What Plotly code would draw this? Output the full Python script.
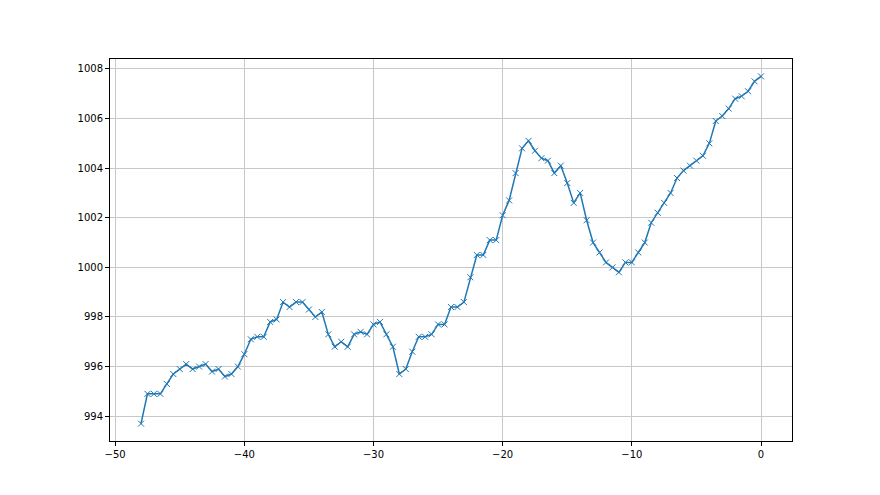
import plotly.graph_objects as go

hours = [-48.0, -47.5, -47.0, -46.5, -46.0, -45.5, -45.0, -44.5, -44.0, -43.5,
         -43.0, -42.5, -42.0, -41.5, -41.0, -40.5, -40.0, -39.5, -39.0, -38.5,
         -38.0, -37.5, -37.0, -36.5, -36.0, -35.5, -35.0, -34.5, -34.0, -33.5,
         -33.0, -32.5, -32.0, -31.5, -31.0, -30.5, -30.0, -29.5, -29.0, -28.5,
         -28.0, -27.5, -27.0, -26.5, -26.0, -25.5, -25.0, -24.5, -24.0, -23.5,
         -23.0, -22.5, -22.0, -21.5, -21.0, -20.5, -20.0, -19.5, -19.0, -18.5,
         -18.0, -17.5, -17.0, -16.5, -16.0, -15.5, -15.0, -14.5, -14.0, -13.5,
         -13.0, -12.5, -12.0, -11.5, -11.0, -10.5, -10.0, -9.5, -9.0, -8.5,
         -8.0, -7.5, -7.0, -6.5, -6.0, -5.5, -5.0, -4.5, -4.0, -3.5,
         -3.0, -2.5, -2.0, -1.5, -1.0, -0.5, 0.0]

pressure = [993.7, 994.9, 994.9, 994.9, 995.3, 995.7, 995.9, 996.1, 995.9, 996.0,
            996.1, 995.8, 995.9, 995.6, 995.7, 996.0, 996.5, 997.1, 997.2, 997.2,
            997.8, 997.9, 998.6, 998.4, 998.6, 998.6, 998.3, 998.0, 998.2, 997.3,
            996.8, 997.0, 996.8, 997.3, 997.4, 997.3, 997.7, 997.8, 997.3, 996.8,
            995.7, 995.9, 996.6, 997.2, 997.2, 997.3, 997.7, 997.7, 998.4, 998.4,
            998.6, 999.6, 1000.5, 1000.5, 1001.1, 1001.1, 1002.1, 1002.7, 1003.8, 1004.8,
            1005.1, 1004.7, 1004.4, 1004.3, 1003.8, 1004.1, 1003.4, 1002.6, 1003.0, 1001.9,
            1001.0, 1000.6, 1000.2, 1000.0, 999.8, 1000.2, 1000.2, 1000.6, 1001.0, 1001.8,
            1002.2, 1002.6, 1003.0, 1003.6, 1003.9, 1004.1, 1004.3, 1004.5, 1005.0, 1005.9,
            1006.1, 1006.4, 1006.8, 1006.9, 1007.1, 1007.5, 1007.7]

x_ticks = [-50, -40, -30, -20, -10, 0]
y_ticks = [994, 996, 998, 1000, 1002, 1004, 1006, 1008]

fig = go.Figure()
fig.add_trace(go.Scatter(
    x=hours, y=pressure, mode="lines+markers",
    line=dict(color="#1f77b4", width=1.5),
    marker=dict(symbol="x-thin-open", size=6, color="#1f77b4",
                line=dict(color="#1f77b4", width=1)),
    showlegend=False,
))

axis_common = dict(
    showgrid=True, gridcolor="#c8c8c8", gridwidth=1,
    showline=True, linecolor="#000000", linewidth=1, mirror=True,
    ticks="outside", ticklen=4, tickcolor="#000000", tickwidth=1,
    zeroline=False,
    tickfont=dict(family="DejaVu Sans", size=10, color="#000000"),
)

fig.update_xaxes(range=[-50.4, 2.4], tickvals=x_ticks, **axis_common)
fig.update_yaxes(range=[993.0, 1008.4], tickvals=y_ticks, **axis_common)

fig.update_layout(
    width=880, height=495,
    margin=dict(l=102, r=96, t=51, b=62),
    paper_bgcolor="white", plot_bgcolor="white",
    font=dict(family="DejaVu Sans", size=10, color="#000000"),
)

fig.write_html("out.html")
